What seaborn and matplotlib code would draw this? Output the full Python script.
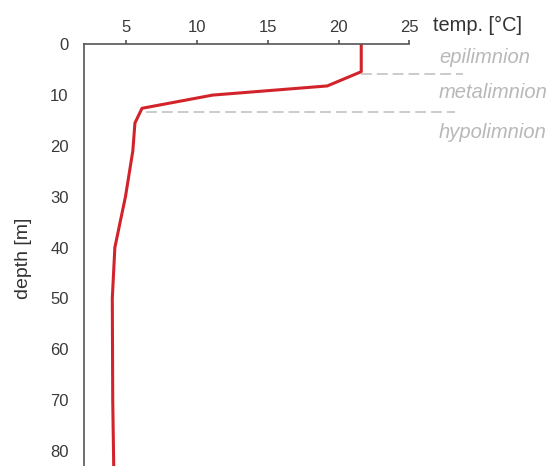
import matplotlib
matplotlib.use("Agg")
import matplotlib.pyplot as plt
import seaborn as sns

# temperature profile
depth = [0, 5.4, 8.2, 10.0, 12.6, 15.5, 21.0, 30.0, 40.0, 50.0, 70.0, 83.0]
temp = [21.6, 21.6, 19.2, 11.1, 6.1, 5.6, 5.45, 4.93, 4.18, 4.0, 4.03, 4.1]

# layer boundaries (depth, x start, x end)
bound_depth = [5.85, 13.4]
bound_start = [21.6, 6.35]
bound_end = [28.8, 28.25]

layer_names = ["epilimnion", "metalimnion", "hypolimnion"]
layer_depth = [2.7, 9.4, 17.3]
layer_x = [27.1, 27.1, 27.05]

xticks = [5, 10, 15, 20, 25]
yticks = [0, 10, 20, 30, 40, 50, 60, 70, 80]

sns.set_theme(style="white")
plt.rcParams["font.family"] = ["Liberation Sans", "DejaVu Sans"]

fig = plt.figure(figsize=(5.47, 4.66), dpi=100)
ax = fig.add_axes([0.1536, 0.0, 0.5947, 0.905])

sns.lineplot(x=temp, y=depth, sort=False, estimator=None, color="#d2232a",
             linewidth=2.2, ax=ax)

for d, a, b in zip(bound_depth, bound_start, bound_end):
    ax.plot([a, b], [d, d], color="#c2c2c2", linewidth=1.2, dashes=(6.5, 3),
            clip_on=False)

for name, d, x in zip(layer_names, layer_depth, layer_x):
    ax.text(x, d, name, color="#b8b8b8", fontsize=14.5, style="italic",
            va="center", ha="left", clip_on=False)

ax.set_xlim(2.0, 25)
ax.set_ylim(83, 0)
ax.set_xticks(xticks)
ax.set_yticks(yticks)
ax.xaxis.tick_top()
for side in ["bottom", "right"]:
    ax.spines[side].set_visible(False)
for side in ["top", "left"]:
    ax.spines[side].set_color("#555555")
    ax.spines[side].set_linewidth(1.2)
ax.tick_params(axis="both", direction="out", length=3, width=1.2,
               color="#555555", labelsize=12, labelcolor="#3a3a3a")
ax.tick_params(axis="x", pad=4)
ax.tick_params(axis="y", pad=8)
ax.text(26.7, -3.75, "temp. [°C]", fontsize=14.4, color="#333333",
        ha="left", va="center", clip_on=False)
ax.set_xlabel("")
ax.set_ylabel("")
fig.text(24 / 547, 1 - 258 / 466, "depth [m]", fontsize=14, color="#333333",
         rotation=90, ha="center", va="center")

fig.savefig("out.png", dpi=100)
